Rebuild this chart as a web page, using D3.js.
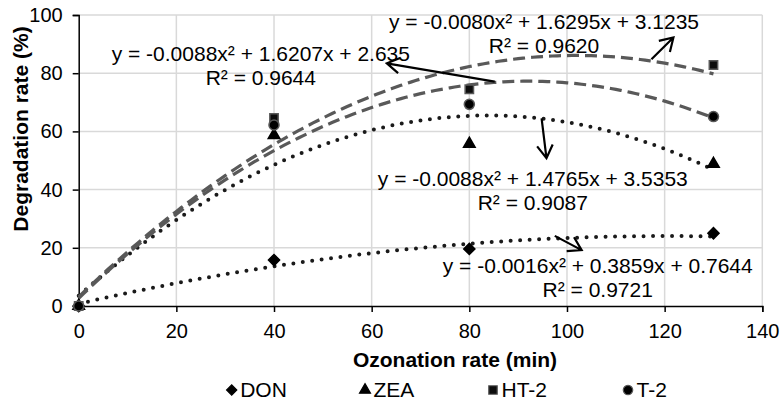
<!DOCTYPE html>
<html><head><meta charset="utf-8">
<script src="https://cdn.jsdelivr.net/npm/d3@7"></script>
<style>body{margin:0;background:#fff}svg{display:block}text{font-family:"Liberation Sans",Arial,sans-serif;fill:#000}</style>
</head><body><svg id="c" width="782" height="403"></svg>
<script>
const seriesNames = ["DON","ZEA","HT-2","T-2"];
const xValues = [0, 40, 80, 130];
const donValues = [0, 15.8, 19.6, 25.0];
const zeaValues = [0, 58.7, 55.7, 48.8];
const ht2Values = [0, 64.6, 74.5, 82.8];
const t2Values  = [0, 62.2, 69.3, 65.1];
// trendline coefficients [a, b, c] for y = a x^2 + b x + c
const donCoef = [-0.0016, 0.3859, 0.7644];
const zeaCoef = [-0.0088, 1.4765, 3.5353];
const ht2Coef = [-0.0080, 1.6295, 3.1235];
const t2Coef  = [-0.0088, 1.6207, 2.635];
const eqLabels = ["y = -0.0016x² + 0.3859x + 0.7644","y = -0.0088x² + 1.4765x + 3.5353","y = -0.0080x² + 1.6295x + 3.1235","y = -0.0088x² + 1.6207x + 2.635"];
const r2Labels = ["R² = 0.9721","R² = 0.9087","R² = 0.9620","R² = 0.9644"];
const xTicks = [0,20,40,60,80,100,120,140];
const yTicks = [0,20,40,60,80,100];

const svg = d3.select("#c");
const x = d3.scaleLinear().domain([0,140]).range([78.7,762.3]);
const y = d3.scaleLinear().domain([0,100]).range([306,15]);

// gridlines
svg.append("g").selectAll("line").data(xTicks.slice(1)).join("line")
  .attr("x1",d=>x(d)).attr("x2",d=>x(d)).attr("y1",y(0)).attr("y2",y(100))
  .attr("stroke","#d9d9d9").attr("stroke-width",1.5);
svg.append("g").selectAll("line").data(yTicks.slice(1)).join("line")
  .attr("x1",x(0)).attr("x2",x(140)).attr("y1",d=>y(d)).attr("y2",d=>y(d))
  .attr("stroke","#d9d9d9").attr("stroke-width",1.5);

// axes
const xa = svg.append("g").attr("transform",`translate(0,${y(0)})`)
  .call(d3.axisBottom(x).tickValues(xTicks).tickSize(6).tickPadding(6).tickFormat(d3.format("d")));
const ya = svg.append("g").attr("transform",`translate(${x(0)},0)`)
  .call(d3.axisLeft(y).tickValues(yTicks).tickSize(6).tickPadding(10).tickFormat(d3.format("d")));
[xa,ya].forEach(g=>{
  g.select(".domain").attr("stroke","#000").attr("stroke-width",1.5);
  g.selectAll(".tick line").attr("stroke","#000").attr("stroke-width",1.5);
  g.selectAll("text").attr("font-size","20px").attr("font-family","Liberation Sans, Arial, sans-serif").attr("fill","#000");
});
xa.selectAll("text").attr("dy","1.0em");

// axis titles
svg.append("text").attr("x",455).attr("y",367).attr("text-anchor","middle")
  .attr("font-size","21px").attr("font-weight","bold").text("Ozonation rate (min)");
svg.append("text").attr("transform","translate(28,129) rotate(-90)").attr("text-anchor","middle")
  .attr("font-size","21px").attr("font-weight","bold").text("Degradation rate (%)");

// trendlines
const trend = [
  {coef:donCoef, color:"#1a1a1a", dash:"0 9.5", cap:"round", w:4},
  {coef:zeaCoef, color:"#1a1a1a", dash:"0 9.5", cap:"round", w:4},
  {coef:ht2Coef, color:"#595959", dash:"12 6", cap:"butt", w:3.2},
  {coef:t2Coef,  color:"#595959", dash:"12 6", cap:"butt", w:3.2}
];
const xs = d3.range(0,130.01,1);
const line = d3.line().x(d=>x(d[0])).y(d=>y(d[1]));
trend.forEach(t=>{
  const pts = xs.map(v=>[v, t.coef[0]*v*v + t.coef[1]*v + t.coef[2]]);
  svg.append("path").attr("d",line(pts)).attr("fill","none")
    .attr("stroke",t.color).attr("stroke-width",t.w).attr("stroke-dasharray",t.dash).attr("stroke-linecap",t.cap);
});

// markers
const series = [
  {vals:donValues, sym:d3.symbolSquare, size:62, fill:"#000", stroke:"#000", rot:45},
  {vals:zeaValues, sym:d3.symbolTriangle, size:58, fill:"#000", stroke:"#000", rot:0},
  {vals:ht2Values, sym:d3.symbolSquare, size:70, fill:"#0d0d0d", stroke:"#595959", rot:0},
  {vals:t2Values,  sym:d3.symbolCircle, size:80, fill:"#000", stroke:"#595959", rot:0}
];
series.forEach(s=>{
  svg.append("g").selectAll("path").data(xValues.map((v,i)=>[v,s.vals[i]])).join("path")
    .attr("d",d3.symbol().type(s.sym).size(s.size))
    .attr("transform",d=>`translate(${x(d[0])},${y(d[1])}) rotate(${s.rot})`)
    .attr("fill",s.fill).attr("stroke",s.stroke).attr("stroke-width",1.5);
});

// equation labels (data-unit anchors)
const labelPos = [[106.3,11.4],[93.0,41.4],[95.3,95.2],[37.3,84.3]];
labelPos.forEach((p,i)=>{
  const g = svg.append("g").attr("font-size","21px");
  g.append("text").attr("x",x(p[0])).attr("y",y(p[1])).attr("text-anchor","middle").text(eqLabels[i]);
  g.append("text").attr("x",x(p[0])).attr("y",y(p[1])+24.5).attr("text-anchor","middle").text(r2Labels[i]);
});

// arrows (data units: tail -> head)
const arrows = [
  [[97.5,24.1],[103.0,19.2]],
  [[94.8,64.5],[95.8,50.8]],
  [[117.3,84.8],[121.8,92.3]],
  [[85.2,77.1],[63.1,83.4]]
];
arrows.forEach(a=>{
  const x1=x(a[0][0]), y1=y(a[0][1]), x2=x(a[1][0]), y2=y(a[1][1]);
  const ang=Math.atan2(y2-y1,x2-x1), L=15, spread=0.55;
  const p1=[x2-L*Math.cos(ang-spread), y2-L*Math.sin(ang-spread)];
  const p2=[x2-L*Math.cos(ang+spread), y2-L*Math.sin(ang+spread)];
  svg.append("path").attr("d",`M${x1},${y1}L${x2},${y2}M${p1[0]},${p1[1]}L${x2},${y2}L${p2[0]},${p2[1]}`)
    .attr("fill","none").attr("stroke","#000").attr("stroke-width",2.2);
});

// legend
const legX = [231.7, 365, 493, 628];
const legSyms = [d3.symbolSquare, d3.symbolTriangle, d3.symbolSquare, d3.symbolCircle];
const legSize = [52, 52, 72, 70];
const legRot = [45,0,0,0];
const legFill = ["#000","#000","#0d0d0d","#000"];
const legStroke = ["#000","#000","#595959","#595959"];
seriesNames.forEach((n,i)=>{
  svg.append("path").attr("d",d3.symbol().type(legSyms[i]).size(legSize[i]))
    .attr("transform",`translate(${legX[i]},390) rotate(${legRot[i]})`)
    .attr("fill",legFill[i]).attr("stroke",legStroke[i]).attr("stroke-width",1.2);
  svg.append("text").attr("x",legX[i]+8.5).attr("y",397).attr("font-size","21px").text(n);
});
</script></body></html>
